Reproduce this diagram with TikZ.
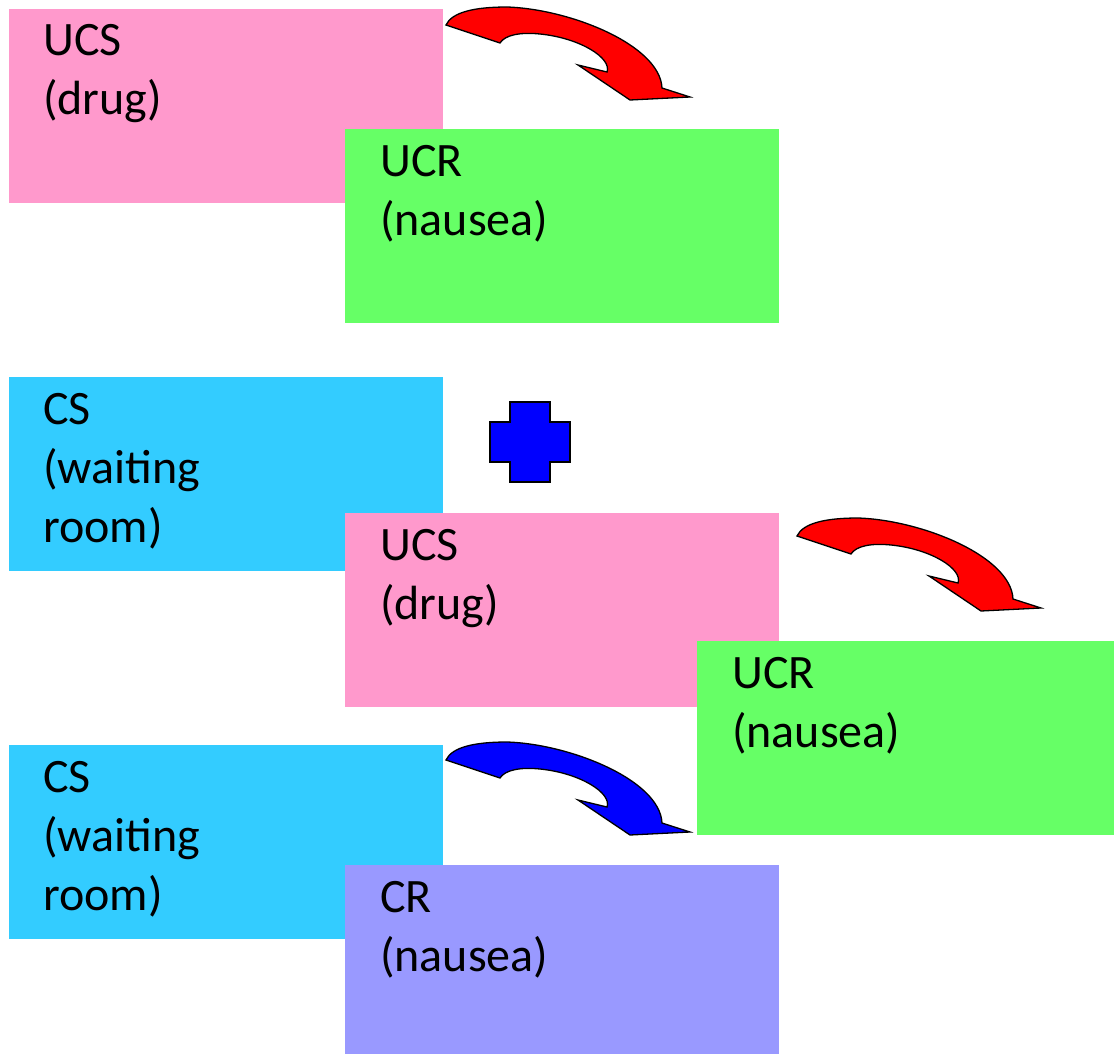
\documentclass[tikz,border=0pt]{standalone}
\usepackage{fontspec}
\setmainfont{Carlito}
\definecolor{pinkbox}{HTML}{FF99CC}
\definecolor{greenbox}{HTML}{66FF66}
\definecolor{cyanbox}{HTML}{33CCFF}
\definecolor{lavbox}{HTML}{9999FF}
\definecolor{arrred}{HTML}{FF0000}
\definecolor{arrblue}{HTML}{0000FF}
\tikzset{
  box/.style={draw=none, anchor=north west, inner sep=0pt, outer sep=0pt},
  lbl/.style={anchor=base west, inner sep=0pt, font=\fontsize{48}{59}\selectfont},
  curvarr/.style={draw=black, line width=1.3pt, line join=miter},
}
\newcommand\lines[1]{\vtop{\baselineskip=59pt\lineskiplimit=-100pt\halign{##\hfil\cr#1\crcr}}}
\newcommand\mycurvedarrow[2]{%
  \begin{scope}[shift={#1}]
  \filldraw[curvarr, fill=#2]
    (446,25) .. controls (452,12) and (475,7) .. (507,7)
    .. controls (570,9) and (660,45) .. (662,88)
    -- (690,97) -- (630,100) -- (578,65) -- (607,72)
    .. controls (612,58) and (580,38) .. (540,34)
    .. controls (520,32) and (505,35) .. (500,43) -- cycle;
  \end{scope}}
\begin{document}
\begin{tikzpicture}[x=1pt,y=-1pt]
\useasboundingbox (0,0) rectangle (1114,1054);
% row 1
\node[box, fill=pinkbox, minimum width=434pt, minimum height=194pt] (ucs1) at (9,9) {};
\node[box, fill=greenbox, minimum width=434pt, minimum height=194pt] (ucr1) at (345,129) {};
% row 2
\node[box, fill=cyanbox, minimum width=434pt, minimum height=194pt] (cs1) at (9,377) {};
\node[box, fill=pinkbox, minimum width=434pt, minimum height=194pt] (ucs2) at (345,513) {};
\node[box, fill=greenbox, minimum width=417pt, minimum height=194pt] (ucr2) at (697,641) {};
% row 3
\node[box, fill=cyanbox, minimum width=434pt, minimum height=194pt] (cs2) at (9,745) {};
\node[box, fill=lavbox, minimum width=434pt, minimum height=189pt] (cr) at (345,865) {};
% labels
\node[lbl] (t1) at (43,56) {\lines{UCS\cr(drug)}};
\node[lbl] (t2) at (380,176) {\lines{UCR\cr(nausea)}};
\node[lbl] (t3) at (43,424) {\lines{CS\cr(waiting\cr room)}};
\node[lbl] (t4) at (380,560) {\lines{UCS\cr(drug)}};
\node[lbl] (t5) at (732,688) {\lines{UCR\cr(nausea)}};
\node[lbl] (t6) at (43,792) {\lines{CS\cr(waiting\cr room)}};
\node[lbl] (t7) at (380,912) {\lines{CR\cr(nausea)}};
% plus
\filldraw[draw=black, line width=2pt, fill=arrblue]
  (510,402) -- (550,402) -- (550,422) -- (570,422) -- (570,462) -- (550,462)
  -- (550,482) -- (510,482) -- (510,462) -- (490,462) -- (490,422) -- (510,422) -- cycle;
% curved arrows
\mycurvedarrow{(0,0)}{arrred}
\mycurvedarrow{(351,511)}{arrred}
\mycurvedarrow{(0,735)}{arrblue}
\end{tikzpicture}
\end{document}
